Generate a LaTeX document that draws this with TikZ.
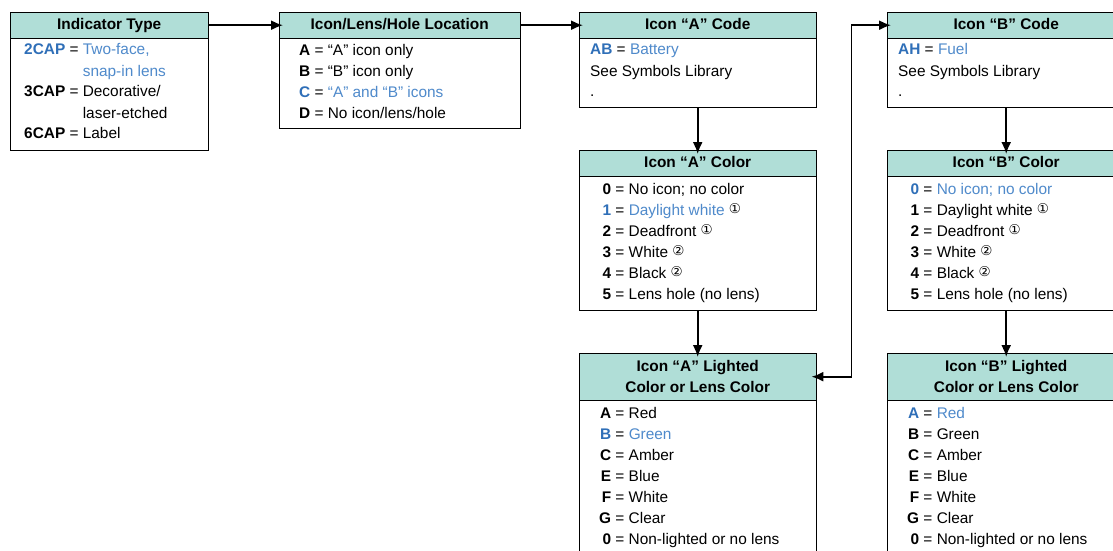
\documentclass[tikz,border=0pt]{standalone}
\usepackage{fontspec}
\setmainfont{Liberation Sans}
\newfontfamily\symfont{DejaVu Sans}
\usetikzlibrary{arrows.meta}
\definecolor{headfill}{HTML}{B0DED7}
\definecolor{codeblue}{HTML}{2F6FB8}
\definecolor{textblue}{HTML}{4F8ACB}
\newcommand{\basefont}{\fontsize{15.4}{21}\selectfont}
\newcommand{\cd}[1]{\makebox[12pt][r]{\textbf{#1}}}
\newcommand{\bcd}[1]{\makebox[12pt][r]{\textbf{\color{codeblue}#1}}}
\newcommand{\bl}[1]{{\color{textblue}#1}}
\newcommand{\circnum}[1]{{\symfont\fontsize{13.5}{13.5}\selectfont\raisebox{1.5pt}{#1}}}
\tikzset{
	head/.style={draw, fill=headfill, font=\basefont\bfseries, inner sep=0pt, anchor=north west, align=center},
	onehead/.style={head, text height=11pt, text depth=3pt},
	frame/.style={draw, fill=white, inner sep=0pt, anchor=north west},
	list/.style={inner sep=0pt, anchor=base west},
	link/.style={-{Latex[length=12pt,width=10pt]}, line width=1.8pt, shorten >=-4pt},
}
\begin{document}
\begin{tikzpicture}[x=1pt,y=-1pt,font=\basefont]
	\useasboundingbox (0,0) rectangle (1113,551);
	% top row
	\node[onehead, minimum width=198, minimum height=26] (typeH) at (10,12) {Indicator Type};
	\node[frame, minimum width=198, minimum height=112] (typeB) at (typeH.south west) {};
	\node[list] (typeL) at (24,55) {\begin{tabular}[t]{@{}l@{\ }c@{\ }l@{}}
		\textbf{\color{codeblue}2CAP} & = & \bl{Two-face,}\\
		 & & \bl{snap-in lens}\\
		\textbf{3CAP} & = & Decorative/\\
		 & & laser-etched\\
		\textbf{6CAP} & = & Label
	\end{tabular}};
	\node[onehead, minimum width=241, minimum height=26] (locH) at (279,12) {Icon/Lens/Hole Location};
	\node[frame, minimum width=241, minimum height=90] (locB) at (locH.south west) {};
	\node[list] (locL) at (299,56) {\begin{tabular}[t]{@{}l@{}}
		\textbf{A} = “A” icon only\\
		\textbf{B} = “B” icon only\\
		\textbf{\color{codeblue}C} = \bl{“A” and “B” icons}\\
		\textbf{D} = No icon/lens/hole
	\end{tabular}};
	\node[onehead, minimum width=237, minimum height=26] (codeAH) at (579,12) {Icon “A” Code};
	\node[frame, minimum width=237, minimum height=69] (codeAB) at (codeAH.south west) {};
	\node[list] (codeAL) at (590,55) {\begin{tabular}[t]{@{}l@{}}
		\textbf{\color{codeblue}AB} = \bl{Battery}\\
		See Symbols Library\\
		.
	\end{tabular}};
	\node[onehead, minimum width=238, minimum height=26] (codeBH) at (887,12) {Icon “B” Code};
	\node[frame, minimum width=238, minimum height=69] (codeBB) at (codeBH.south west) {};
	\node[list] (codeBL) at (898,55) {\begin{tabular}[t]{@{}l@{}}
		\textbf{\color{codeblue}AH} = \bl{Fuel}\\
		See Symbols Library\\
		.
	\end{tabular}};
	% colour boxes
	\node[onehead, minimum width=237, minimum height=26] (colAH) at (579,150) {Icon “A” Color};
	\node[frame, minimum width=237, minimum height=134] (colAB) at (colAH.south west) {};
	\node[list] (colAL) at (599,194) {\begin{tabular}[t]{@{}l@{}}
		\cd{0} = No icon; no color\\
		\bcd{1} = \bl{Daylight white} \circnum{①}\\
		\cd{2} = Deadfront \circnum{①}\\
		\cd{3} = White \circnum{②}\\
		\cd{4} = Black \circnum{②}\\
		\cd{5} = Lens hole (no lens)
	\end{tabular}};
	\node[onehead, minimum width=238, minimum height=26] (colBH) at (887,150) {Icon “B” Color};
	\node[frame, minimum width=238, minimum height=134] (colBB) at (colBH.south west) {};
	\node[list] (colBL) at (907,194) {\begin{tabular}[t]{@{}l@{}}
		\bcd{0} = \bl{No icon; no color}\\
		\cd{1} = Daylight white \circnum{①}\\
		\cd{2} = Deadfront \circnum{①}\\
		\cd{3} = White \circnum{②}\\
		\cd{4} = Black \circnum{②}\\
		\cd{5} = Lens hole (no lens)
	\end{tabular}};
	% lighted colour boxes
	\node[head, minimum width=237, minimum height=47] (litAH) at (579,353) {Icon “A” Lighted\\Color or Lens Color};
	\node[frame, minimum width=237, minimum height=170] (litAB) at (litAH.south west) {};
	\node[list] (litAL) at (599,418) {\begin{tabular}[t]{@{}l@{}}
		\cd{A} = Red\\
		\bcd{B} = \bl{Green}\\
		\cd{C} = Amber\\
		\cd{E} = Blue\\
		\cd{F} = White\\
		\cd{G} = Clear\\
		\cd{0} = Non-lighted or no lens
	\end{tabular}};
	\node[head, minimum width=238, minimum height=47] (litBH) at (887,353) {Icon “B” Lighted\\Color or Lens Color};
	\node[frame, minimum width=238, minimum height=170] (litBB) at (litBH.south west) {};
	\node[list] (litBL) at (907,418) {\begin{tabular}[t]{@{}l@{}}
		\bcd{A} = \bl{Red}\\
		\cd{B} = Green\\
		\cd{C} = Amber\\
		\cd{E} = Blue\\
		\cd{F} = White\\
		\cd{G} = Clear\\
		\cd{0} = Non-lighted or no lens
	\end{tabular}};
	% connectors
	\draw[link] (typeH.east) -- (locH.west);
	\draw[link] (locH.east) -- (codeAH.west);
	\draw[link] (codeAB.south) -- (colAH.north);
	\draw[link] (colAB.south) -- (litAH.north);
	\draw[link] (codeBB.south) -- (colBH.north);
	\draw[link] (colBB.south) -- (litBH.north);
	\draw[link, {Latex[length=12pt,width=10pt]}-{Latex[length=12pt,width=10pt]}, shorten <=-5pt] (litAH.east) -- ++(35,0) |- (codeBH.west);
\end{tikzpicture}
\end{document}
